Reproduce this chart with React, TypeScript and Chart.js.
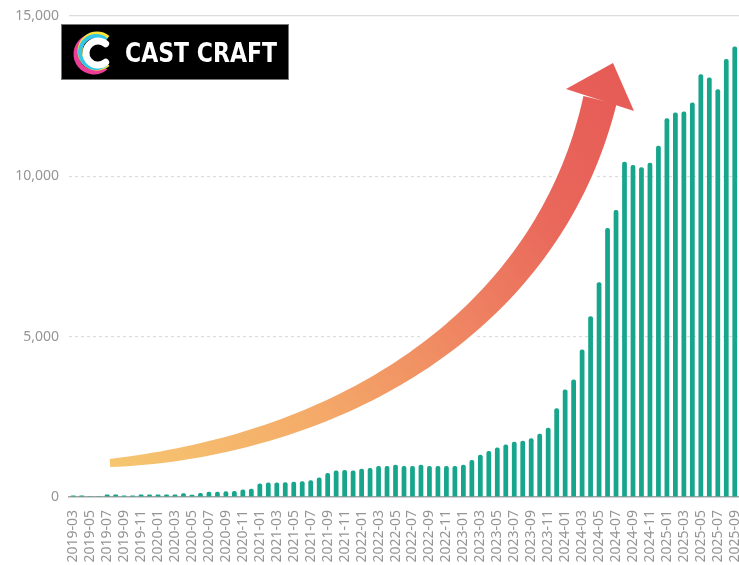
import React, { useEffect, useRef } from "react";
import { Chart, registerables } from "chart.js";

Chart.register(...registerables);

const months: string[] = [
  "2019-03", "2019-04", "2019-05", "2019-06", "2019-07", "2019-08", "2019-09", "2019-10", "2019-11", "2019-12",
  "2020-01", "2020-02", "2020-03", "2020-04", "2020-05", "2020-06", "2020-07", "2020-08", "2020-09", "2020-10", "2020-11", "2020-12",
  "2021-01", "2021-02", "2021-03", "2021-04", "2021-05", "2021-06", "2021-07", "2021-08", "2021-09", "2021-10", "2021-11", "2021-12",
  "2022-01", "2022-02", "2022-03", "2022-04", "2022-05", "2022-06", "2022-07", "2022-08", "2022-09", "2022-10", "2022-11", "2022-12",
  "2023-01", "2023-02", "2023-03", "2023-04", "2023-05", "2023-06", "2023-07", "2023-08", "2023-09", "2023-10", "2023-11", "2023-12",
  "2024-01", "2024-02", "2024-03", "2024-04", "2024-05", "2024-06", "2024-07", "2024-08", "2024-09", "2024-10", "2024-11", "2024-12",
  "2025-01", "2025-02", "2025-03", "2025-04", "2025-05", "2025-06", "2025-07", "2025-08", "2025-09",
];

const users: number[] = [
  50, 50, 10, 10, 80, 80, 50, 50, 80, 80,
  80, 80, 80, 120, 70, 125, 160, 165, 180, 190, 230, 255,
  420, 455, 455, 460, 475, 495, 520, 610, 745, 830, 840, 830,
  880, 905, 965, 965, 1005, 965, 965, 1005, 965, 965, 965, 965,
  1005, 1150, 1315, 1432, 1547, 1640, 1723, 1755, 1832, 1972, 2158, 2771,
  3353, 3665, 4601, 5640, 6700, 8390, 8950, 10458, 10355, 10283, 10427, 10957,
  11811, 11987, 12018, 12299, 13184, 13080, 12716, 13662, 14045,
];

const yTicks: number[] = [0, 5000, 10000, 15000];
const logoText = "CAST CRAFT";

const BAR_COLOR = "#17a58b";
const TICK_COLOR = "#959595";
const FONT = "'Noto Sans', sans-serif";

const decorPlugin = {
  id: "decor",
  afterDatasetsDraw(chart: any) {
    const ctx: CanvasRenderingContext2D = chart.ctx;
    const ca = chart.chartArea;
    const sx = (x: number) => ca.left + ((x - 69) * ca.width) / 670;
    const sy = (y: number) => ca.top + ((y - 16) * ca.height) / 481;
    const k = ca.width / 670;

    // ---- curved arrow ----
    const P0 = [110, 463], P1 = [340, 445], P2 = [548, 322], P3 = [600, 100];
    const bez = (t: number) => {
      const u = 1 - t;
      const a = u * u * u, b = 3 * u * u * t, c = 3 * u * t * t, d = t * t * t;
      return [a * P0[0] + b * P1[0] + c * P2[0] + d * P3[0], a * P0[1] + b * P1[1] + c * P2[1] + d * P3[1]];
    };
    const der = (t: number) => {
      const u = 1 - t;
      return [
        3 * u * u * (P1[0] - P0[0]) + 6 * u * t * (P2[0] - P1[0]) + 3 * t * t * (P3[0] - P2[0]),
        3 * u * u * (P1[1] - P0[1]) + 6 * u * t * (P2[1] - P1[1]) + 3 * t * t * (P3[1] - P2[1]),
      ];
    };
    const left: number[][] = [], right: number[][] = [];
    const N = 80;
    for (let i = 0; i <= N; i++) {
      const t = i / N;
      const p = bez(t);
      const d = der(t);
      const len = Math.hypot(d[0], d[1]) || 1;
      const nx = -d[1] / len, ny = d[0] / len;
      const w = (8 + 26 * Math.pow(t, 0.75)) / 2;
      left.push([p[0] + nx * w, p[1] + ny * w]);
      right.push([p[0] - nx * w, p[1] - ny * w]);
    }
    const shaft = new Path2D();
    shaft.moveTo(sx(left[0][0]), sy(left[0][1]));
    for (const q of left) shaft.lineTo(sx(q[0]), sy(q[1]));
    for (let i = right.length - 1; i >= 0; i--) shaft.lineTo(sx(right[i][0]), sy(right[i][1]));
    shaft.closePath();
    const head = new Path2D();
    head.moveTo(sx(613), sy(63));
    head.lineTo(sx(634), sy(111));
    head.lineTo(sx(566), sy(89));
    head.closePath();

    ctx.save();
    ctx.lineJoin = "round";
    ctx.strokeStyle = "#ffffff";
    ctx.lineWidth = 9 * k;
    ctx.stroke(shaft);
    ctx.stroke(head);
    const g = ctx.createLinearGradient(sx(110), sy(463), sx(613), sy(64));
    g.addColorStop(0, "#f6c670");
    g.addColorStop(0.3, "#f4aa69");
    g.addColorStop(0.55, "#ef8662");
    g.addColorStop(0.78, "#e9675b");
    g.addColorStop(1, "#e65b56");
    ctx.fillStyle = g;
    ctx.fill(shaft);
    ctx.fill(head);
    ctx.restore();

    // ---- logo ----
    ctx.save();
    ctx.fillStyle = "#000000";
    ctx.fillRect(sx(61), sy(24), 228 * k, 56 * k);
    ctx.strokeStyle = "#777";
    ctx.lineWidth = 1;
    ctx.strokeRect(sx(61) + 0.5, sy(24) + 0.5, 228 * k - 1, 56 * k - 1);
    const cx = sx(97), cy = sy(52);
    const ring = (dx: number, dy: number, r: number, col: string, lw: number) => {
      ctx.beginPath();
      ctx.strokeStyle = col;
      ctx.lineWidth = lw * k;
      ctx.arc(cx + dx * k, cy + dy * k, r * k, 0.28 * Math.PI, 1.72 * Math.PI);
      ctx.stroke();
    };
    ring(-3, 2, 18, "#ec3d97", 5);
    ring(0, -1, 17, "#fbe53a", 5);
    ring(-1, 0, 16, "#35c6e8", 4);
    ctx.lineCap = "round";
    ring(1, 1, 12, "#ffffff", 7);
    ctx.lineCap = "butt";
    ctx.fillStyle = "#ffffff";
    ctx.font = `900 27px 'DejaVu Sans', sans-serif`;
    ctx.textBaseline = "alphabetic";
    ctx.textAlign = "left";
    const tw = ctx.measureText(logoText).width;
    const target = 152 * k;
    ctx.translate(sx(125), sy(62));
    ctx.scale(target / tw, 1);
    ctx.fillText(logoText, 0, 0);
    ctx.restore();
  },
};

export default function App() {
  const ref = useRef<HTMLCanvasElement | null>(null);
  useEffect(() => {
    if (!ref.current) return;
    const chart = new Chart(ref.current, {
      type: "bar",
      data: {
        labels: months,
        datasets: [
          {
            data: users,
            backgroundColor: BAR_COLOR,
            borderRadius: { topLeft: 2, topRight: 2, bottomLeft: 0, bottomRight: 0 },
            borderSkipped: "bottom",
            categoryPercentage: 1,
            barPercentage: 0.56,
          },
        ],
      },
      options: {
        animation: false,
        responsive: true,
        maintainAspectRatio: false,
        layout: { padding: { top: 16, left: 0, right: 0, bottom: 0 } },
        plugins: { legend: { display: false }, tooltip: { enabled: false } },
        scales: {
          x: {
            grid: { display: false },
            border: { display: true, color: "#a3a3a3", width: 1.5 },
            ticks: {
              autoSkip: false,
              maxRotation: 90,
              minRotation: 90,
              padding: 5,
              color: TICK_COLOR,
              font: { family: FONT, size: 14 },
              callback: (_v: any, i: number) => (i % 2 === 0 ? months[i] : ""),
            },
            afterFit: (s: any) => {
              s.height = 68;
              s.paddingLeft = 0;
              s.paddingRight = 0;
            },
          },
          y: {
            min: 0,
            max: 15000,
            afterBuildTicks: (s: any) => {
              s.ticks = yTicks.map((v) => ({ value: v }));
            },
            grid: {
              drawTicks: false,
              color: (c: any) => (c.tick && c.tick.value === 0 ? "rgba(0,0,0,0)" : "#dcdcdc"),
              lineWidth: 1.2,
            },
            border: {
              display: false,
              dash: (c: any) => (c.tick && c.tick.value === 15000 ? [] : [3, 3]),
            },
            ticks: {
              padding: 10,
              color: TICK_COLOR,
              font: { family: FONT, size: 14 },
              callback: (v: any) => Number(v).toLocaleString("en-US"),
            },
            afterFit: (s: any) => {
              s.width = 69;
              s.paddingTop = 0;
              s.paddingBottom = 0;
            },
          },
        },
      },
      plugins: [decorPlugin],
    });
    return () => chart.destroy();
  }, []);
  return (
    <div style={{ position: "fixed", left: 0, top: 0, width: 739, height: 565, background: "#fff" }}>
      <canvas ref={ref} />
    </div>
  );
}
